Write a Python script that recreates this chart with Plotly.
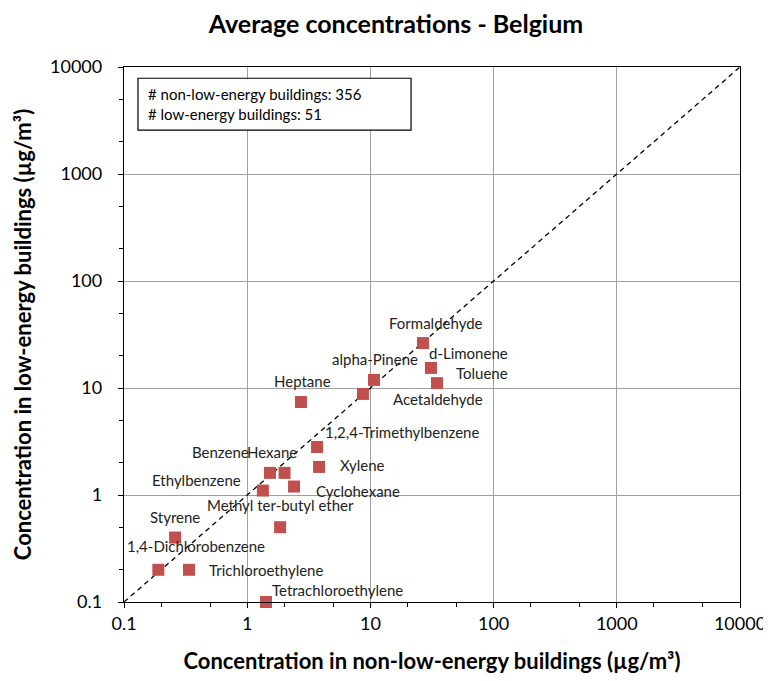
import math
import plotly.graph_objects as go

compounds = ["Formaldehyde", "d-Limonene", "Toluene", "alpha-Pinene", "Acetaldehyde",
             "Heptane", "1,2,4-Trimethylbenzene", "Xylene", "Benzene", "Hexane",
             "Ethylbenzene", "Cyclohexane", "Methyl ter-butyl ether", "Styrene",
             "1,4-Dichlorobenzene", "Trichloroethylene", "Tetrachloroethylene"]
non_low_energy = [26.7, 31.0, 34.7, 10.7, 8.7, 2.73, 3.69, 3.83, 1.53, 2.01,
                  1.34, 2.4, 1.85, 0.26, 0.19, 0.337, 1.42]
low_energy = [26.3, 15.4, 11.1, 11.9, 8.8, 7.4, 2.81, 1.83, 1.61, 1.61,
              1.1, 1.2, 0.5, 0.40, 0.2, 0.2, 0.1]
# label pixel offsets (style)
label_dx = [13, 38, 45, 1, 75, 2, 85, 43, -49, -13, -66, 64, 0, 0, 38, 77, 72]
label_dy = [-20, -15, -10, -21, 5, -21, -15, -2, -21, -21, -11, 4, -22, -21, -24, 0, -12]

diag = [0.1, 10000]
tick_vals = [0.1, 1, 10, 100, 1000, 10000]
tick_text = ["0.1", "1", "10", "100", "1000", "10000"]

FONT = "Lato"
fig = go.Figure()
fig.add_trace(go.Scatter(x=diag, y=diag, mode="lines",
                         line=dict(color="black", width=1.3, dash="5px,4px"),
                         hoverinfo="skip", showlegend=False, cliponaxis=False))
fig.add_trace(go.Scatter(x=non_low_energy, y=low_energy, mode="markers",
                         marker=dict(symbol="square", size=12, color="#C0504D"),
                         text=compounds, showlegend=False, cliponaxis=False))

for name, xv, yv, dx, dy in zip(compounds, non_low_energy, low_energy, label_dx, label_dy):
    fig.add_annotation(x=math.log10(xv), y=math.log10(yv),
                       text=name, showarrow=False, xshift=dx, yshift=-dy,
                       font=dict(family=FONT, size=15, color="#222"))

fig.add_shape(type="rect", xref="paper", yref="paper", x0=0.0227, x1=0.466,
              y0=0.882, y1=0.979, line=dict(color="black", width=1.2), fillcolor="white")
fig.add_annotation(xref="paper", yref="paper", x=0.036, y=0.93, xanchor="left",
                   yanchor="middle", align="left", showarrow=False,
                   text="# non-low-energy buildings: 356<br># low-energy buildings: 51",
                   font=dict(family=FONT, size=15, color="black"))

axis_common = dict(type="log", tickvals=tick_vals, ticktext=tick_text,
                   showgrid=True, gridcolor="#A0A0A0", gridwidth=1,
                   showline=True, linecolor="black", linewidth=1.3, mirror=True,
                   ticks="outside", ticklen=5, tickcolor="black",
                   minor=dict(ticks="outside", ticklen=4, tickcolor="black", showgrid=False),
                   tickfont=dict(family=FONT, size=18, color="black"),
                   zeroline=False, automargin=False)

fig.update_xaxes(range=[-1, 4], **axis_common,
                 title=dict(text="<b>Concentration in non-low-energy buildings (µg/m³)</b>",
                            font=dict(family=FONT, size=22, color="black"), standoff=20))
fig.update_yaxes(range=[-1, 4], ticklabelstandoff=12, **axis_common,
                 title=dict(text="<b>Concentration in low-energy buildings (µg/m³)</b>",
                            font=dict(family=FONT, size=22, color="black"), standoff=12))

fig.update_layout(width=763, height=673,
                  margin=dict(l=116, r=31, t=59, b=79),
                  paper_bgcolor="white", plot_bgcolor="white",
                  title=dict(text="<b>Average concentrations - Belgium</b>", x=0.5085, xanchor="center",
                             y=0.976, yanchor="middle",
                             font=dict(family=FONT, size=25, color="black")))

fig.write_html("out.html")
